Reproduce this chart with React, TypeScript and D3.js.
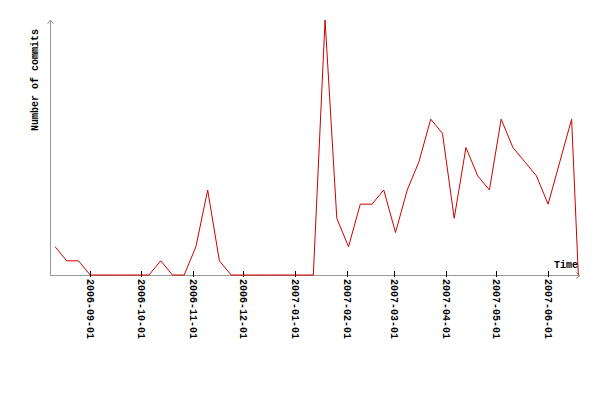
import React from "react";
import * as d3 from "d3";

const weekDates: string[] = [
  "2006-08-11","2006-08-18","2006-08-25","2006-09-01","2006-09-08","2006-09-15","2006-09-22","2006-09-29",
  "2006-10-06","2006-10-13","2006-10-20","2006-10-27","2006-11-03","2006-11-10","2006-11-17","2006-11-24",
  "2006-12-01","2006-12-08","2006-12-15","2006-12-22","2006-12-29","2007-01-05","2007-01-12","2007-01-19",
  "2007-01-26","2007-02-02","2007-02-09","2007-02-16","2007-02-23","2007-03-02","2007-03-09","2007-03-16",
  "2007-03-23","2007-03-30","2007-04-06","2007-04-13","2007-04-20","2007-04-27","2007-05-04","2007-05-11",
  "2007-05-18","2007-05-25","2007-06-01","2007-06-08","2007-06-15","2007-06-19",
];
const commits: number[] = [
  2, 1, 1, 0, 0, 0, 0, 0,
  0, 1, 0, 0, 2, 6, 1, 0,
  0, 0, 0, 0, 0, 0, 0, 18,
  4, 2, 5, 5, 6, 3, 6, 8,
  11, 10, 4, 9, 7, 6, 11, 9,
  8, 7, 5, 8, 11, 0,
];
const tickLabels: string[] = [
  "2006-09-01","2006-10-01","2006-11-01","2006-12-01","2007-01-01",
  "2007-02-01","2007-03-01","2007-04-01","2007-05-01","2007-06-01",
];
const xDomain: string[] = ["2006-08-08", "2007-06-20"];
const yMax = 18;

const parse = d3.utcParse("%Y-%m-%d");

export default function App() {
  const W = 600, H = 400;
  const left = 50, right = 580, top = 20, bottom = 275;
  const x = d3.scaleUtc().domain(xDomain.map((s) => parse(s) as Date)).range([left, right]);
  const y = d3.scaleLinear().domain([0, yMax]).range([bottom, top]);
  const data = weekDates.map((d, i) => ({ date: parse(d) as Date, v: commits[i] }));
  const line = d3.line<{ date: Date; v: number }>().x((d) => x(d.date)).y((d) => y(d.v));
  const font = "'Liberation Mono', 'DejaVu Sans Mono', monospace";
  const axisColor = "#999999";
  return (
    <svg width={W} height={H} style={{ position: "absolute", left: 0, top: 0, background: "#fff" }}>
      <rect x={0} y={0} width={W} height={H} fill="#fff" />
      {/* axes */}
      <line x1={left + 0.5} y1={bottom + 0.5} x2={left + 0.5} y2={top} stroke={axisColor} strokeWidth={1} shapeRendering="crispEdges" />
      <path d={`M${left - 2.5},${top + 4} L${left + 0.5},${top} L${left + 3.5},${top + 4}`} fill="none" stroke={axisColor} strokeWidth={1} />
      <line x1={left} y1={bottom + 0.5} x2={right} y2={bottom + 0.5} stroke={axisColor} strokeWidth={1} shapeRendering="crispEdges" />
      <path d={`M${right - 4},${bottom - 2.5} L${right},${bottom + 0.5} L${right - 4},${bottom + 3.5}`} fill="none" stroke={axisColor} strokeWidth={1} />
      {/* ticks */}
      {tickLabels.map((t) => {
        const tx = Math.round(x(parse(t) as Date)) + 0.5;
        return (
          <g key={t}>
            <line x1={tx} y1={271} x2={tx} y2={277} stroke="#000" strokeWidth={1} shapeRendering="crispEdges" />
            <text
              transform={`translate(${tx - 3.5},${279}) rotate(90)`}
              fontFamily={font}
              fontWeight="bold"
              fontSize={10}
              fill="#000"
            >
              {t}
            </text>
          </g>
        );
      })}
      {/* data line */}
      <path d={line(data) || ""} fill="none" stroke="#cc0000" strokeWidth={1} />
      {/* labels */}
      <text x={578} y={268} textAnchor="end" fontFamily={font} fontWeight="bold" fontSize={10} fill="#000">
        Time
      </text>
      <text
        transform={`translate(38,80) rotate(-90)`}
        textAnchor="middle"
        fontFamily={font}
        fontWeight="bold"
        fontSize={10}
        fill="#000"
      >
        Number of commits
      </text>
    </svg>
  );
}
